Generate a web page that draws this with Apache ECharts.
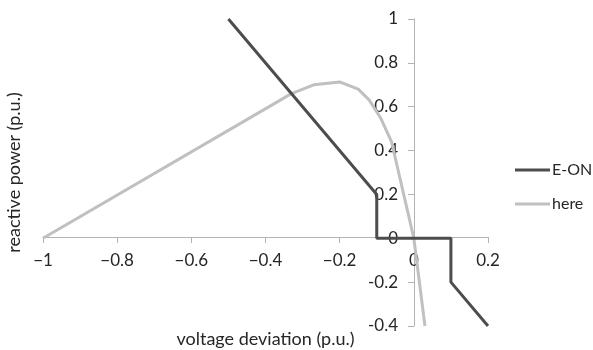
<!DOCTYPE html>
<html><head><meta charset="utf-8">
<script src="https://cdn.jsdelivr.net/npm/echarts@6/dist/echarts.min.js"></script>
<style>html,body{margin:0;padding:0;background:#fff}#c{width:593px;height:350px}</style>
</head><body><div id="c"></div>
<script>
var seriesNames = ['E-ON', 'here'];
var eonData = [[-0.5,1],[-0.1,0.2],[-0.1,0],[0.1,0],[0.1,-0.2],[0.2,-0.4]];
var hereData = [[-1,0],[-0.36,0.63],[-0.33,0.66],[-0.27,0.70],[-0.2,0.713],[-0.15,0.68],[-0.12,0.63],[-0.09,0.55],[-0.06,0.44],[-0.03,0.22],[0,0],[0.03,-0.4]];
var xName = 'voltage deviation (p.u.)';
var yName = 'reactive power (p.u.)';
var FONT = 'Lato';
var chart = echarts.init(document.getElementById('c'), null, {renderer:'canvas'});
chart.setOption({
  animation:false,
  backgroundColor:'#fff',
  textStyle:{fontFamily:FONT},
  grid:{left:43,right:105,top:19,bottom:24,containLabel:false,outerBoundsMode:'none'},
  legend:{
    orient:'vertical', left:515, top:162, itemGap:18, padding:0,
    itemWidth:35, itemHeight:3, icon:'rect',
    textStyle:{fontFamily:FONT,fontSize:16,color:'#262626',padding:[0,0,0,-3]},
    data:seriesNames
  },
  xAxis:{
    type:'value', min:-1, max:0.2, interval:0.2, position:'bottom', offset:-89,
    name:xName, nameLocation:'middle', nameGap:93,
    nameTextStyle:{fontFamily:FONT,fontSize:18,color:'#262626'},
    axisLine:{onZero:false,lineStyle:{color:'#b3b3b3',width:1}},
    axisTick:{show:true,length:6,lineStyle:{color:'#b3b3b3'}},
    axisLabel:{fontFamily:FONT,fontSize:17,color:'#262626',margin:15,
      formatter:function(v){return String(+v.toFixed(2)).replace('-','\u2212');}},
    splitLine:{show:false}
  },
  yAxis:{
    type:'value', min:-0.4, max:1, interval:0.2, position:'left', offset:-371,
    name:yName, nameLocation:'middle', nameGap:391, nameRotate:90,
    nameTextStyle:{fontFamily:FONT,fontSize:18,color:'#262626'},
    axisLine:{onZero:false,lineStyle:{color:'#b3b3b3',width:1}},
    axisTick:{show:true,length:6,lineStyle:{color:'#b3b3b3'}},
    axisLabel:{fontFamily:FONT,fontSize:17,color:'#262626',margin:16,
      formatter:function(v){return String(+v.toFixed(2));}},
    splitLine:{show:false}
  },
  series:[
    {name:seriesNames[0],type:'line',data:eonData,showSymbol:false,symbol:'none',
     lineStyle:{color:'#4d4d4d',width:3},itemStyle:{color:'#4d4d4d'},z:3},
    {name:seriesNames[1],type:'line',data:hereData,showSymbol:false,symbol:'none',
     lineStyle:{color:'#c0c0c0',width:3},itemStyle:{color:'#c0c0c0'},z:2}
  ]
});
</script></body></html>
